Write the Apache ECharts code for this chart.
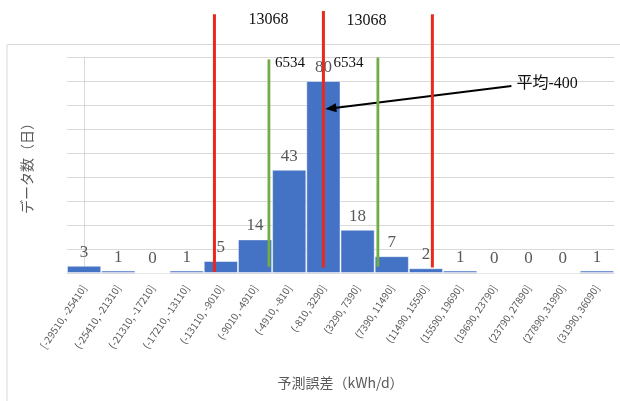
<!DOCTYPE html>
<html>
<head>
<meta charset="utf-8">
<script src="https://cdn.jsdelivr.net/npm/echarts@6/dist/echarts.min.js"></script>
<style>
  html, body { margin: 0; padding: 0; background: #fff; }
  #chart { width: 620px; height: 401px; }
</style>
</head>
<body>
<div id="chart"></div>
<script>
// Histogram bins of the daily prediction error (kWh/d)
const categories = [
  '[-29510, -25410]', '(-25410, -21310]', '(-21310, -17210]', '(-17210, -13110]',
  '(-13110, -9010]', '(-9010, -4910]', '(-4910, -810]', '(-810, 3290]',
  '(3290, 7390]', '(7390, 11490]', '(11490, 15590]', '(15590, 19690]',
  '(19690, 23790]', '(23790, 27890]', '(27890, 31990]', '(31990, 36090]'
];
// Number of days falling in each bin
const counts = [3, 1, 0, 1, 5, 14, 43, 80, 18, 7, 2, 1, 0, 0, 0, 1];

// Bin layout and summary statistics
const binStart = -29510;
const binWidth = 4100;
const meanValue = -400;
const sigmaValue = 6534;
const sigmaMultiples = [-2, -1, 0, 1, 2];

// Reference lines sit on the bin scale: the mean at its own bin, the others sigma multiples away
const meanBin = Math.floor((meanValue - binStart) / binWidth);
const refLines = sigmaMultiples.map(m => [meanBin + m * sigmaValue / binWidth, m]);

const RED = '#E8291D';
const GREEN = '#70AD47';
const SERIF = '"Liberation Serif", "Times New Roman", "Noto Sans CJK JP", serif';

function renderRef(params, api) {
  const pos = api.value(0);
  const m = api.value(1);
  const isRed = (m % 2 === 0);
  let topVal, botVal;
  if (isRed) {
    topVal = m === 0 ? 109.2 : 107.8;
    botVal = m === -2 ? 0.4 : 2.3;
  } else {
    topVal = m < 0 ? 89 : 89.8;
    botVal = 2.6;
  }
  const top = api.coord([pos, topVal]);
  const bot = api.coord([pos, botVal]);
  const x = top[0];
  const children = [{
    type: 'line',
    shape: { x1: x, y1: top[1], x2: x, y2: bot[1] },
    style: { stroke: isRed ? RED : GREEN, lineWidth: isRed ? 3 : 2.8 }
  }];

  function addText(text, tx, yVal, size, align) {
    const p = api.coord([pos, yVal]);
    children.push({
      type: 'text',
      x: tx, y: p[1],
      style: {
        text: text, fill: '#111', font: size + 'px ' + SERIF,
        align: align || 'left', verticalAlign: 'middle',
        textAlign: align || 'left', textVerticalAlign: 'middle'
      }
    });
  }

  const twoSigma = String(2 * sigmaValue);
  if (m === -2) addText(twoSigma, x + 34, 105.5, 16);
  if (m === -1) addText(String(sigmaValue), x + 6, 87.4, 15);
  if (m === 0) {
    addText(twoSigma, x + 23, 105, 16);
    addText(String(sigmaValue), x + 10, 87.4, 15);
    // arrow pointing at the mean line
    const tip = api.coord([pos, 68.3]);
    tip[0] = x + 2;
    const tail = [tip[0] + 186, tip[1] - 23];
    const dx = tip[0] - tail[0], dy = tip[1] - tail[1];
    const len = Math.sqrt(dx * dx + dy * dy);
    const ux = dx / len, uy = dy / len;
    const hl = 11, hw = 4.5;
    const base = [tip[0] - ux * hl, tip[1] - uy * hl];
    children.push({
      type: 'line',
      shape: { x1: tail[0], y1: tail[1], x2: base[0] + ux * 2, y2: base[1] + uy * 2 },
      style: { stroke: '#000', lineWidth: 2 }
    });
    children.push({
      type: 'polygon',
      shape: { points: [tip, [base[0] - uy * hw, base[1] + ux * hw], [base[0] + uy * hw, base[1] - ux * hw]] },
      style: { fill: '#000' }
    });
    children.push({
      type: 'text',
      x: tail[0] + 5, y: tail[1] - 2,
      style: {
        text: '平均' + meanValue, fill: '#111', font: '16px ' + SERIF,
        align: 'left', verticalAlign: 'middle',
        textAlign: 'left', textVerticalAlign: 'middle'
      }
    });
  }
  return { type: 'group', children: children };
}

const chart = echarts.init(document.getElementById('chart'), null, { renderer: 'canvas' });
chart.setOption({
  backgroundColor: '#fff',
  animation: false,
  graphic: [{
    type: 'rect',
    shape: { x: 7, y: 44.5, width: 800, height: 500 },
    style: { fill: 'none', stroke: '#D9D9D9', lineWidth: 1 },
    silent: true, z: -10
  }],
  grid: { left: 67, right: 6, top: 57, bottom: 128, containLabel: false },
  xAxis: [{
    type: 'category',
    data: categories,
    axisTick: { show: false },
    axisLine: { lineStyle: { color: '#D9D9D9', width: 1 } },
    axisLabel: {
      interval: 0, rotate: 56, margin: 13,
      fontSize: 10, color: '#595959',
      fontFamily: '"Noto Sans CJK JP", "Noto Sans", sans-serif'
    },
    name: '予測誤差（kWh/d）',
    nameLocation: 'middle',
    nameGap: 103,
    nameTextStyle: { fontSize: 14, color: '#595959', fontFamily: '"Noto Sans CJK JP", sans-serif' }
  }, {
    type: 'value', min: -0.5, max: 15.5, show: false
  }],
  yAxis: {
    type: 'value', min: 0, max: 90, interval: 10,
    axisLabel: { show: false },
    axisTick: { show: false },
    axisLine: { show: true, lineStyle: { color: '#D9D9D9' } },
    splitLine: { lineStyle: { color: '#D9D9D9', width: 1 } },
    name: 'データ数（日）',
    nameLocation: 'middle',
    nameRotate: 90,
    nameGap: 33,
    nameTextStyle: { fontSize: 14, color: '#595959', fontFamily: '"Noto Sans CJK JP", sans-serif' }
  },
  series: [{
    type: 'bar',
    data: counts,
    barWidth: '100%',
    barCategoryGap: 0,
    itemStyle: { color: '#4472C4', borderColor: 'rgba(255,255,255,0.45)', borderWidth: 1 },
    label: {
      show: true, position: 'top', distance: 5,
      color: '#595959', fontSize: 17, fontFamily: SERIF
    },
    z: 2
  }, {
    type: 'custom',
    xAxisIndex: 1,
    yAxisIndex: 0,
    data: refLines,
    renderItem: renderRef,
    clip: false,
    silent: true,
    z: 10
  }]
});
</script>
</body>
</html>
